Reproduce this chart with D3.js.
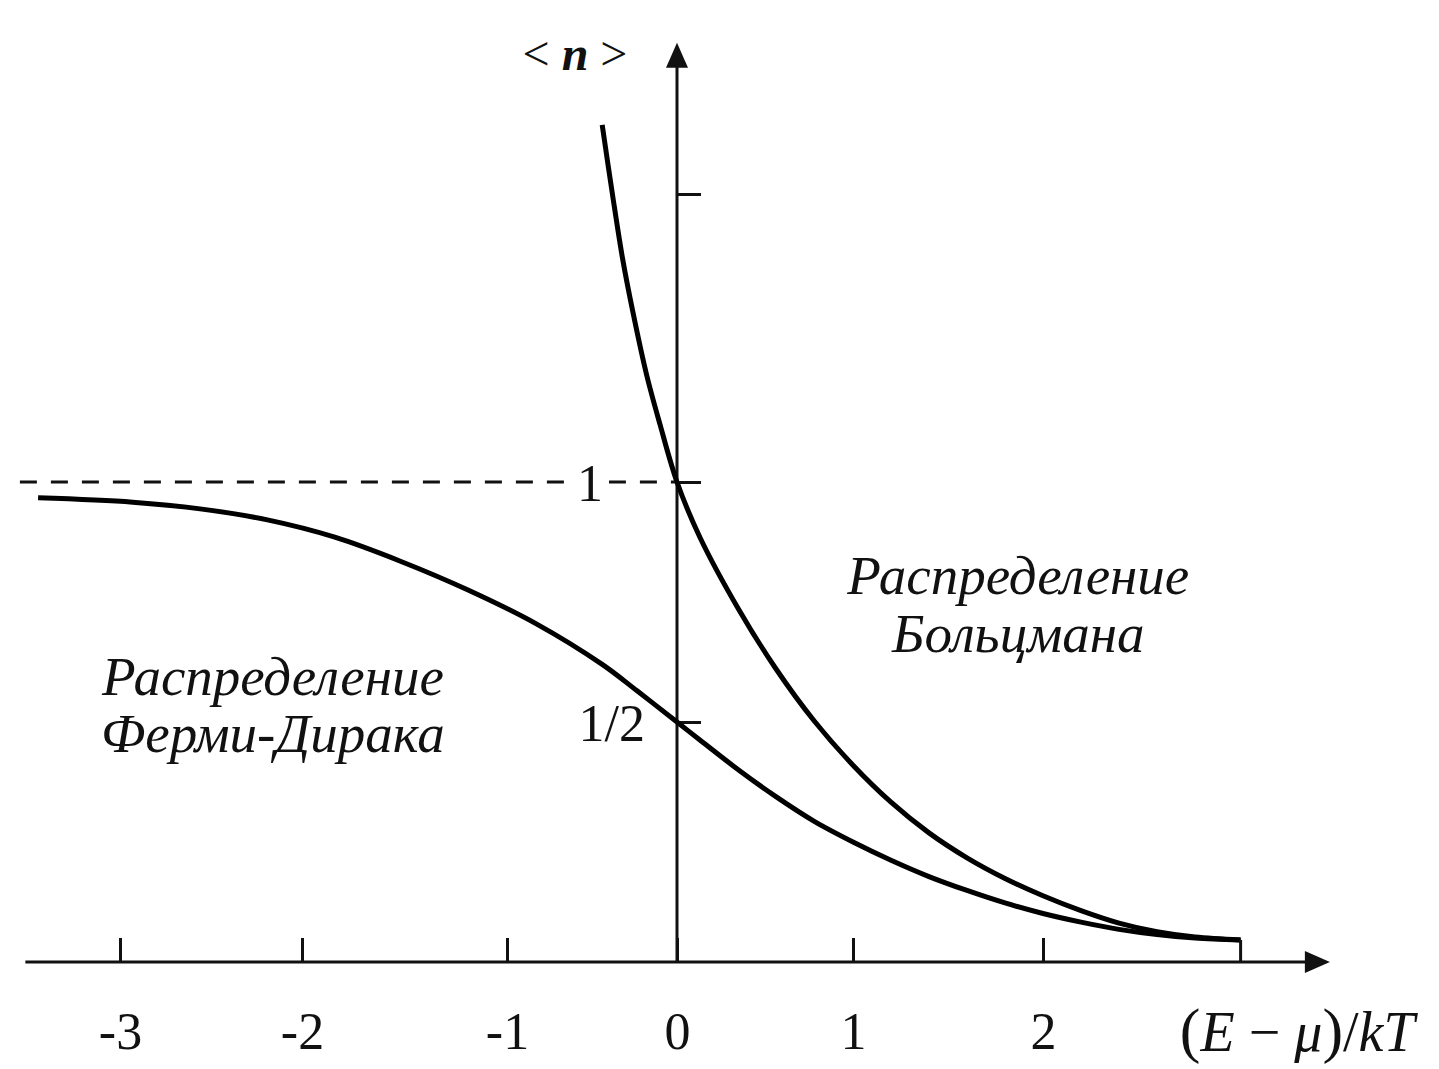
<!DOCTYPE html>
<html lang="ru">
<head>
<meta charset="UTF-8">
<title>Распределения Ферми-Дирака и Больцмана</title>
<script src="https://d3js.org/d3.v7.min.js"></script>
<style>
  body { margin: 0; background: #fff; }
  text { font-family: "Liberation Serif", "Times New Roman", serif; fill: #111; }
</style>
</head>
<body>
<div id="chart"></div>
<script>
// values
const xTicks = [-3, -2, -1, 0, 1, 2];
const xTickLabels = ["-3", "-2", "-1", "0", "1", "2"];
const yTicks = [0.5, 1, 1.6];
const yTickLabels = ["1/2", "1", ""];

// Fermi-Dirac curve
const fermiX = [-3.45, -2.93, -2.56, -2.19, -1.84, -1.52, -1.19, -0.83, -0.44, -0.235, 0, 0.13, 0.35, 0.56, 0.78, 1.0, 1.2, 1.4, 1.6, 1.8, 2.0, 2.2, 2.4, 2.6, 2.8, 3.04];
const fermiN = [0.967, 0.958, 0.944, 0.921, 0.885, 0.835, 0.775, 0.705, 0.62, 0.565, 0.5, 0.4625, 0.40, 0.345, 0.293, 0.250, 0.212, 0.178, 0.149, 0.123, 0.101, 0.083, 0.068, 0.057, 0.05, 0.046];

// Boltzmann curve
const boltzX = [-0.44, -0.38, -0.32, -0.26, -0.18, -0.10, 0, 0.13, 0.35, 0.56, 0.78, 1.0, 1.2, 1.4, 1.6, 1.8, 2.0, 2.2, 2.4, 2.6, 2.8, 3.04];
const boltzN = [1.744, 1.60, 1.465, 1.355, 1.225, 1.12, 1.0, 0.885, 0.735, 0.612, 0.502, 0.41, 0.333, 0.269, 0.217, 0.174, 0.138, 0.107, 0.081, 0.063, 0.052, 0.046];

const xEnd = 3.04;          // both curves stop here
const xMin = -3.52, xMax = 3.51, yMax = 1.915;

const width = 1439, height = 1069;

const svg = d3.select("#chart")
  .append("svg")
    .attr("width", width)
    .attr("height", height);

// the original is hand drawn and its ticks are not evenly spaced -> polylinear scale
const x = d3.scaleLinear()
  .domain(xTicks)
  .range([120, 302, 507, 677, 853, 1043]);

const y = d3.scaleLinear()
  .domain([0, 1])
  .range([962, 482]);

// dashed line at <n> = 1
svg.append("line")
  .attr("x1", x(-3.55)).attr("x2", x(0))
  .attr("y1", y(1)).attr("y2", y(1))
  .attr("stroke", "#111")
  .attr("stroke-width", 3)
  .attr("stroke-dasharray", "17,14");

// X axis line + arrow
svg.append("line")
  .attr("x1", x(xMin)).attr("x2", x(xMax) - 10)
  .attr("y1", y(0)).attr("y2", y(0))
  .attr("stroke", "#111").attr("stroke-width", 3);
svg.append("path")
  .attr("d", `M${x(xMax)},${y(0)} L${x(xMax) - 25},${y(0) - 11} L${x(xMax) - 25},${y(0) + 11} Z`)
  .attr("fill", "#111");

// Y axis line + arrow
svg.append("line")
  .attr("x1", x(0)).attr("x2", x(0))
  .attr("y1", y(0)).attr("y2", y(yMax) + 10)
  .attr("stroke", "#111").attr("stroke-width", 3);
svg.append("path")
  .attr("d", `M${x(0)},${y(yMax)} L${x(0) - 11},${y(yMax) + 25} L${x(0) + 11},${y(yMax) + 25} Z`)
  .attr("fill", "#111");

// X ticks (pointing up) with labels below
svg.append("g")
  .attr("transform", "translate(0," + y(0) + ")")
  .call(d3.axisBottom(x)
    .tickValues(xTicks)
    .tickFormat((d, i) => xTickLabels[i])
    .tickSizeInner(-24)
    .tickSizeOuter(0)
    .tickPadding(50))
  .call(g => g.select(".domain").remove())
  .call(g => g.selectAll("line").attr("stroke", "#111").attr("stroke-width", 3))
  .call(g => g.selectAll("text").attr("font-size", 52));

// Y ticks (pointing right) with labels on the left
const yAxisG = svg.append("g")
  .attr("transform", "translate(" + x(0) + ",0)")
  .call(d3.axisLeft(y)
    .tickValues(yTicks)
    .tickFormat((d, i) => yTickLabels[i])
    .tickSizeInner(-24)
    .tickSizeOuter(0)
    .tickPadding(32))
  .call(g => g.select(".domain").remove())
  .call(g => g.selectAll("line").attr("stroke", "#111").attr("stroke-width", 3))
  .call(g => g.selectAll("text").attr("font-size", 52).attr("dy", "0.36em"));

// "1" sits further left and breaks the dashed line
yAxisG.selectAll(".tick")
  .filter(d => d === 1)
  .each(function() {
    const t = d3.select(this).select("text").attr("x", -74);
    const b = t.node().getBBox();
    d3.select(this).insert("rect", "text")
      .attr("x", b.x - 6).attr("y", b.y)
      .attr("width", b.width + 12).attr("height", b.height)
      .attr("fill", "#fff");
  });

// curves
const line = d3.line()
  .x(d => x(d[0]))
  .y(d => y(d[1]))
  .curve(d3.curveCatmullRom.alpha(0.5));

svg.append("path")
  .datum(d3.zip(fermiX, fermiN))
  .attr("fill", "none")
  .attr("stroke", "#000")
  .attr("stroke-width", 5)
  .attr("d", line);

svg.append("path")
  .datum(d3.zip(boltzX, boltzN))
  .attr("fill", "none")
  .attr("stroke", "#000")
  .attr("stroke-width", 5)
  .attr("d", line);

// short bar where the curves end
svg.append("line")
  .attr("x1", x(xEnd)).attr("x2", x(xEnd))
  .attr("y1", y(fermiN[fermiN.length - 1])).attr("y2", y(0))
  .attr("stroke", "#111").attr("stroke-width", 3);

// axis titles
const nLabel = svg.append("text")
  .attr("x", x(-0.6)).attr("y", y(1.858))
  .attr("text-anchor", "middle")
  .attr("font-size", 48);
nLabel.append("tspan").text("< ");
nLabel.append("tspan").attr("font-style", "italic").attr("font-weight", "bold").text("n");
nLabel.append("tspan").text(" >");

const eLabel = svg.append("text")
  .attr("x", x(2.72)).attr("y", y(-0.185))
  .attr("font-size", 56);
eLabel.append("tspan").attr("font-size", 62).text("(");
eLabel.append("tspan").attr("font-style", "italic").text("E");
eLabel.append("tspan").text(" − ");
eLabel.append("tspan").attr("font-style", "italic").text("μ");
eLabel.append("tspan").attr("font-size", 62).text(")");
eLabel.append("tspan").text("/");
eLabel.append("tspan").attr("font-style", "italic").text("kT");

// region labels
function regionLabel(cx, n1, n2, line1, line2) {
  svg.append("text")
    .attr("x", x(cx)).attr("y", y(n1))
    .attr("text-anchor", "middle").attr("font-style", "italic").attr("font-size", 55)
    .text(line1);
  svg.append("text")
    .attr("x", x(cx)).attr("y", y(n2))
    .attr("text-anchor", "middle").attr("font-style", "italic").attr("font-size", 55)
    .text(line2);
}
regionLabel(-2.16, 0.556, 0.4375, "Распределение", "Ферми-Дирака");
regionLabel(1.87, 0.766, 0.646, "Распределение", "Больцмана");
</script>
</body>
</html>
